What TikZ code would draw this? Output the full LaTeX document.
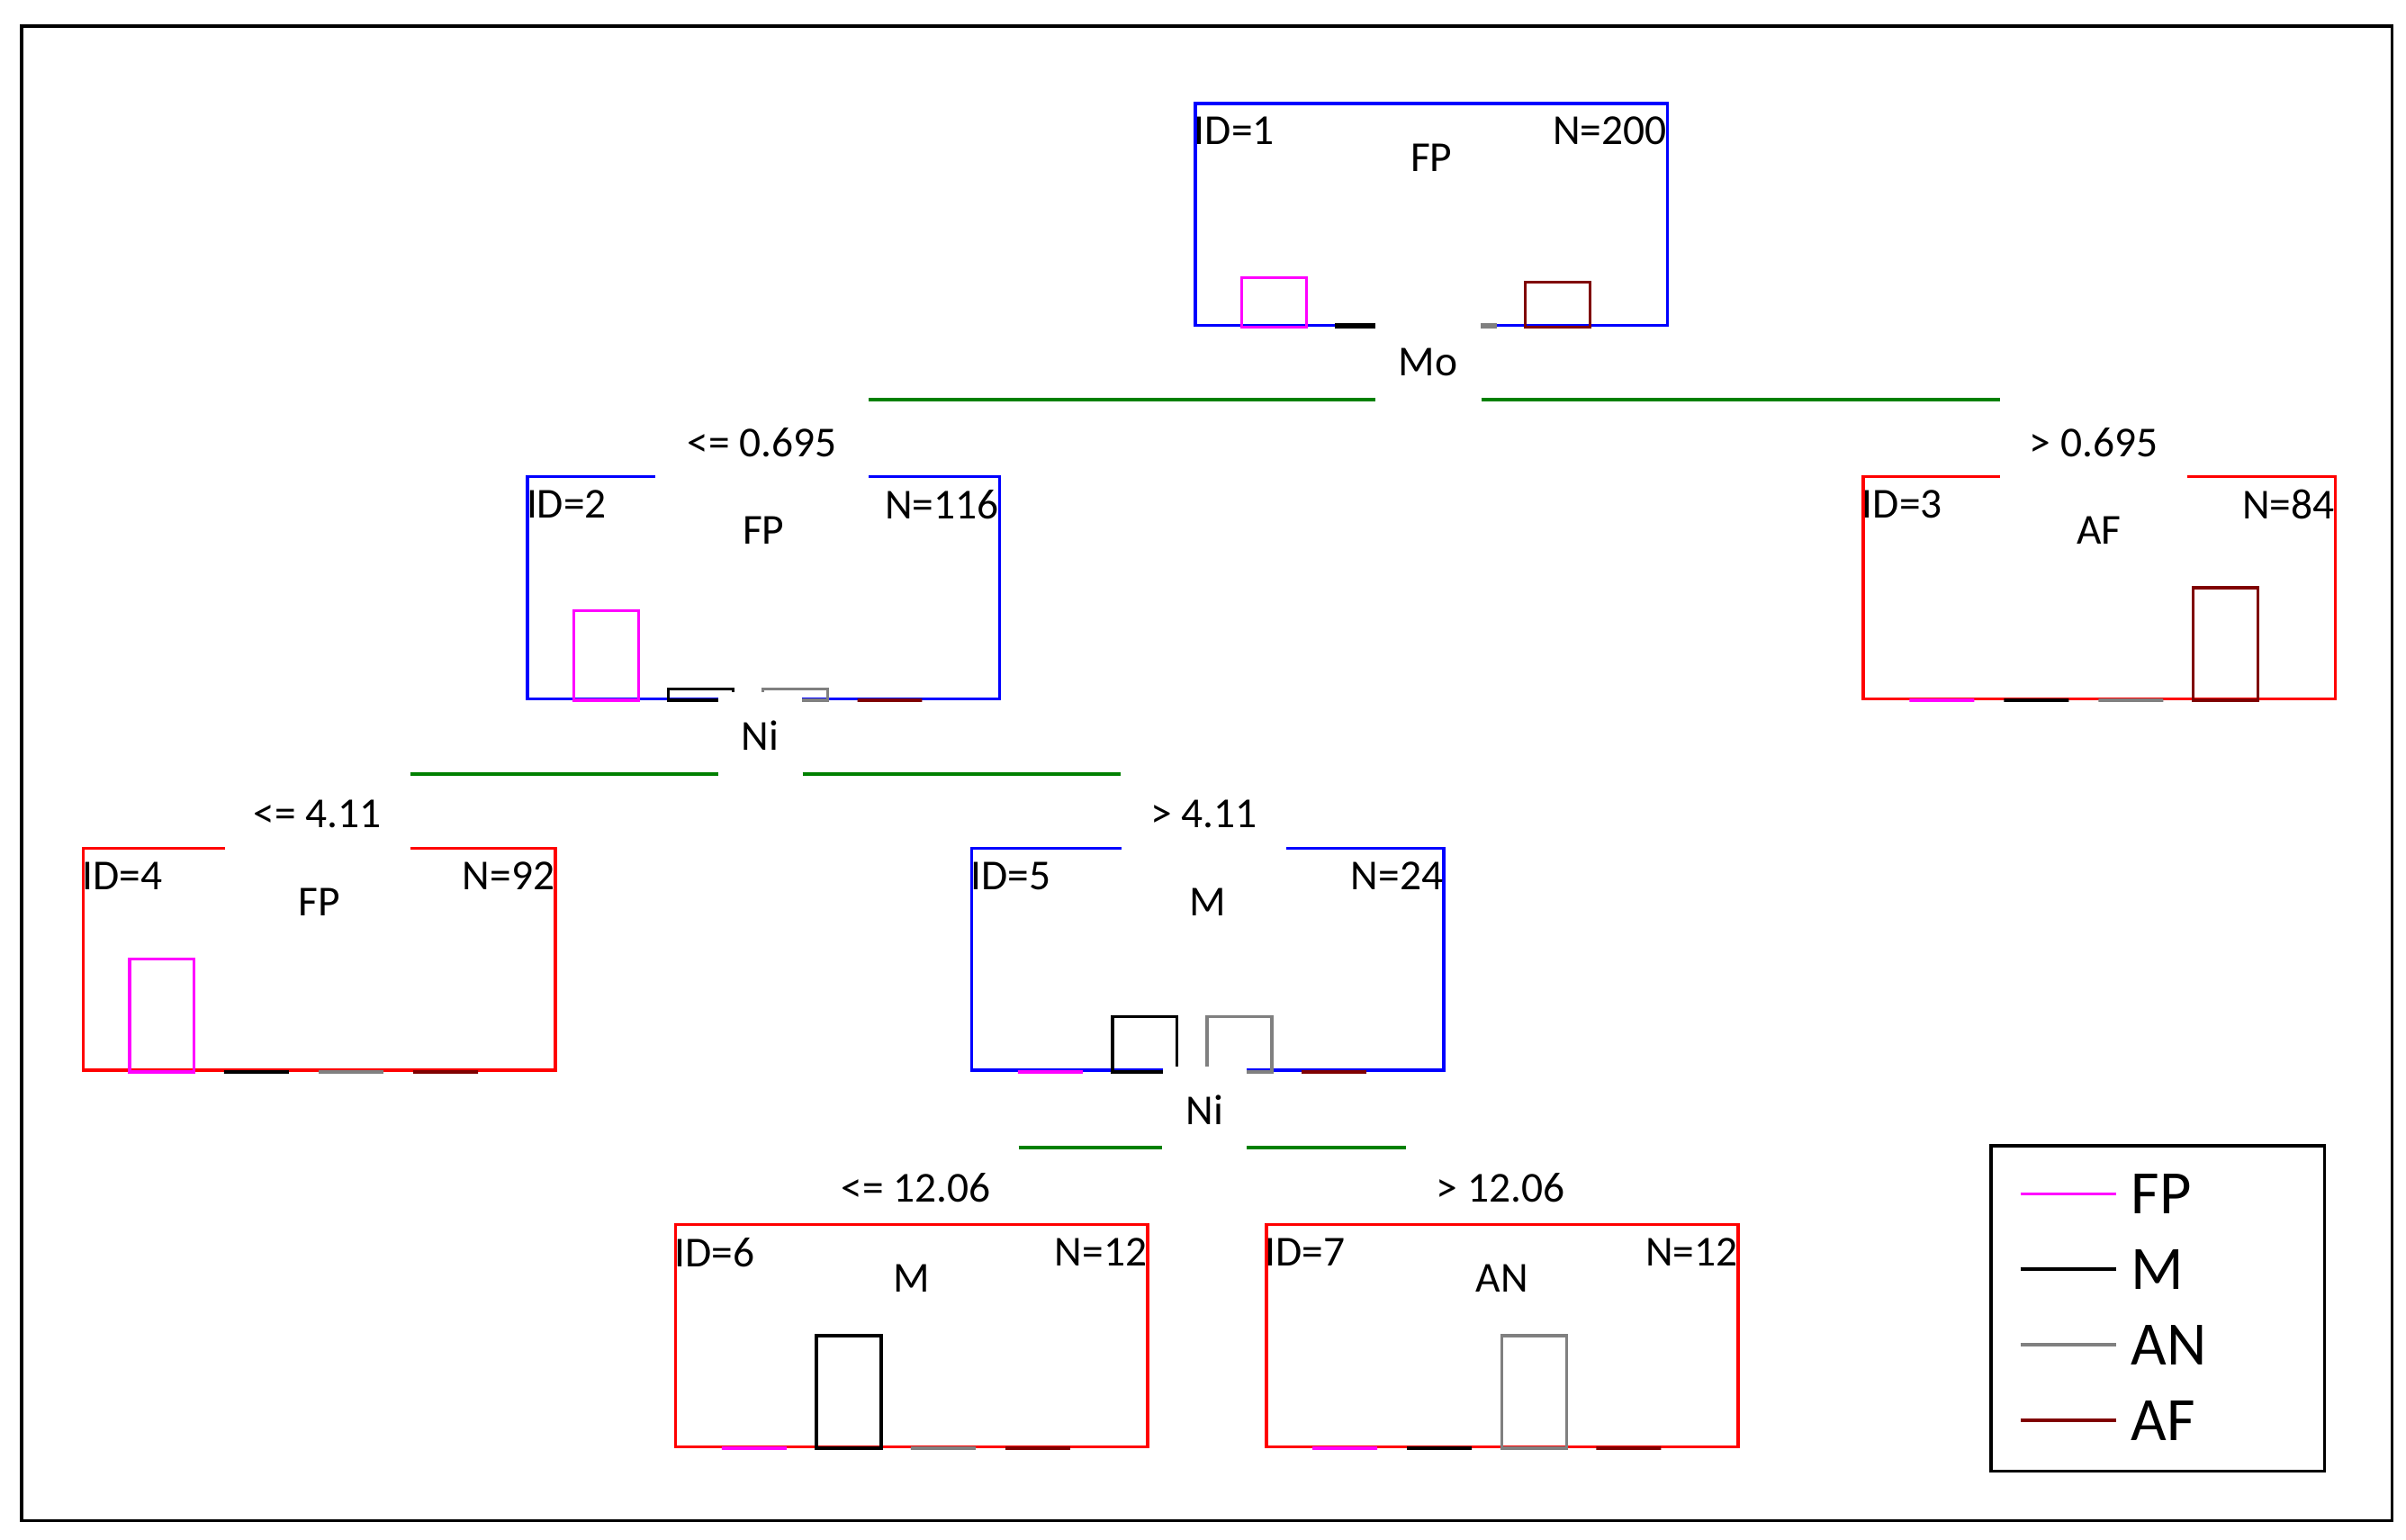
\documentclass[tikz,border=0pt]{standalone}
\usepackage{fontspec}
\setmainfont{Carlito}
\usetikzlibrary{calc}
\definecolor{fpcol}{HTML}{FF00FF}
\definecolor{ancol}{HTML}{808080}
\definecolor{afcol}{HTML}{800000}
\definecolor{splitcol}{HTML}{008000}
\def\u{0.017135cm}
\tikzset{
  box/.style={rectangle, draw=#1, line width=1pt, anchor=north west, minimum width={306*\u}, minimum height={144*\u}, inner sep=0pt},
  bar0/.style={draw=fpcol, line width=0.9pt},
  bar1/.style={draw=black, line width=0.9pt},
  bar2/.style={draw=ancol, line width=0.9pt},
  bar3/.style={draw=afcol, line width=0.9pt},
  split/.style={draw=splitcol, line width=1pt},
  cut/.style={fill=white, inner sep=0pt, font=\fontsize{13.5}{15}\selectfont},
  info/.style={inner sep=0pt, font=\fontsize{13.5}{15}\selectfont},
}
% one tree node: name, top-left corner, colour, id, n, class, bar heights
\newcommand\tnode[7]{%
  \node[box=#3] (#1) at (#2) {};
  \node[info, anchor=west] (#1id) at ($(#1.north west)+(0,19)$) {ID=#4};
  \node[info, anchor=east] (#1n) at ($(#1.north east)+(-1,19)$) {N=#5};
  \node[info] (#1cl) at ($(#1.north)+(0,36)$) {#6};
  \foreach \h [count=\i from 0] in {#7}
    \draw[bar\i] ($(#1.south west)+(31+61.3*\i,0)$) rectangle ++(42,-\h);
}
\begin{document}
\begin{tikzpicture}[x=\u, y=-\u]
  \useasboundingbox (0,0) rectangle (1560,998);
  \draw[line width=1pt] (14,17) rectangle (1551,986);

  % Nodes
  \tnode{n1}{774,66}{blue}{1}{200}{FP}{32,1.5,1.5,29}
  \tnode{n2}{341,308}{blue}{2}{116}{FP}{58,7.5,7.5,0}
  \tnode{n3}{1207,308}{red}{3}{84}{AF}{0,0,0,73}
  \tnode{n4}{53,549}{red}{4}{92}{FP}{73,0,0,0}
  \tnode{n5}{629,549}{blue}{5}{24}{M}{0,36,36,0}
  \tnode{n6}{437,793}{red}{6}{12}{M}{0,73,0,0}
  \tnode{n7}{820,793}{red}{7}{12}{AN}{0,0,73,0}

  % Splits
  \coordinate (s1) at (926,259);
  \coordinate (s2) at (493,502);
  \coordinate (s3) at (781,744);
  \node[cut, minimum width={68*\u}, minimum height={62*\u}] (mo) at (926,235) {Mo};
  \node[cut, minimum width={54*\u}, minimum height={56*\u}] (ni1) at (493,477) {Ni};
  \node[cut, minimum width={54*\u}, minimum height={56*\u}] (ni2) at (781,719.5) {Ni};
  \node[cut, minimum width={138*\u}, minimum height={46*\u}] (lab2) at (494,287) {<= 0.695};
  \node[cut, minimum width={121*\u}, minimum height={46*\u}] (lab3) at (1357.5,287) {> 0.695};
  \node[cut, minimum width={120*\u}, minimum height={46*\u}] (lab4) at (206,528) {<= 4.11};
  \node[cut, minimum width={107*\u}, minimum height={46*\u}] (lab5) at (780.5,528) {> 4.11};
  \node[cut, minimum width={132*\u}, minimum height={46*\u}] (lab6) at (594,770) {<= 12.06};
  \node[cut, minimum width={122*\u}, minimum height={46*\u}] (lab7) at (973,770) {> 12.06};

  % Connectors
  \draw[split] (lab2.east |- s1) -- (mo.west |- s1);
  \draw[split] (mo.east |- s1) -- (lab3.west |- s1);
  \draw[split] (lab4.east |- s2) -- (ni1.west |- s2);
  \draw[split] (ni1.east |- s2) -- (lab5.west |- s2);
  \draw[split] (lab6.east |- s3) -- (ni2.west |- s3);
  \draw[split] (ni2.east |- s3) -- (lab7.west |- s3);

  % Legend
  \node[box=black] (legend) at (1290,742) [minimum width={216*\u}, minimum height={211*\u}] {};
  \foreach \c/\t [count=\i from 0] in {fpcol/FP, black/M, ancol/AN, afcol/AF}
    \draw[draw=\c, line width=1pt] ($(legend.north west)+(20,32+49*\i)$) -- ++(62,0)
      node[info, anchor=west, xshift=0.15cm, font=\fontsize{19.5}{21}\selectfont, text=black] (leg\i) {\t};
\end{tikzpicture}
\end{document}
